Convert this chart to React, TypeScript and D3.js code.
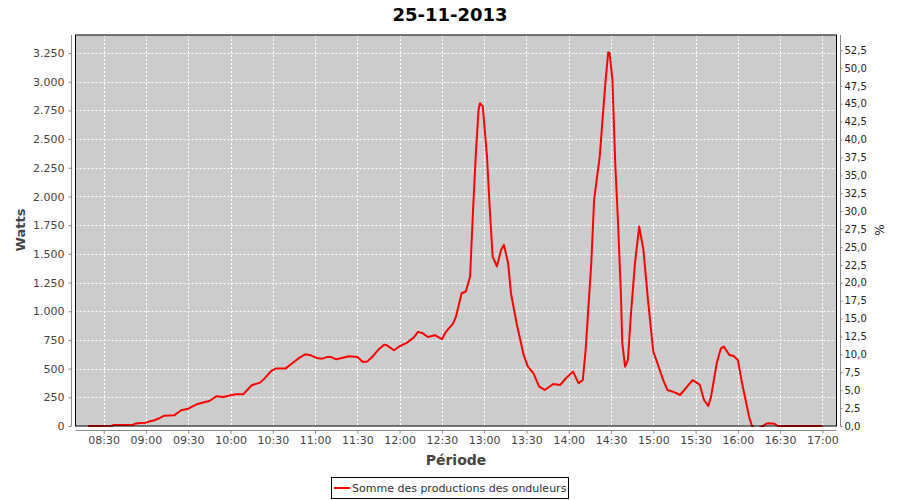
import { useEffect, useRef } from "react";
import * as d3 from "d3";

// readings taken off the curve (time of day, Watts)
const times = [
  "08:19", "08:36", "08:37", "08:51", "08:52", "08:56", "09:00", "09:03", "09:06", "09:08",
  "09:10", "09:13", "09:20", "09:25", "09:30", "09:36", "09:42", "09:45", "09:50", "09:55",
  "10:01", "10:04", "10:09", "10:15", "10:21", "10:24", "10:29", "10:32", "10:39", "10:44",
  "10:49", "10:53", "10:57", "11:01", "11:05", "11:09", "11:11", "11:15", "11:19", "11:24",
  "11:30", "11:34", "11:37", "11:41", "11:45", "11:49", "11:51", "11:56", "12:00", "12:05",
  "12:10", "12:13", "12:16", "12:20", "12:25", "12:30", "12:33", "12:38", "12:40", "12:44",
  "12:47", "12:50", "12:52", "12:54", "12:56", "12:57", "12:59", "13:02", "13:04", "13:06",
  "13:09", "13:12", "13:14", "13:17", "13:19", "13:23", "13:28", "13:31", "13:35", "13:39",
  "13:43", "13:49", "13:54", "13:58", "14:03", "14:07", "14:10", "14:12", "14:16", "14:18",
  "14:22", "14:24", "14:26", "14:28", "14:29", "14:31", "14:33", "14:35", "14:37", "14:38",
  "14:40", "14:42", "14:44", "14:47", "14:50", "14:53", "14:56", "15:00", "15:03", "15:07",
  "15:10", "15:14", "15:19", "15:24", "15:28", "15:33", "15:36", "15:39", "15:41", "15:45",
  "15:48", "15:50", "15:54", "15:57", "16:00", "16:03", "16:06", "16:08", "16:10", "16:13",
  "16:18", "16:20", "16:22", "16:26", "16:28", "16:30", "17:00",
];
const watts = [
  0, 3, 8, 10, 20, 26, 29, 41, 50, 61,
  70, 90, 93, 137, 151, 189, 209, 218, 259, 253,
  270, 276, 276, 355, 378, 413, 480, 500, 500, 549,
  596, 625, 616, 593, 587, 602, 602, 581, 593, 608,
  602, 558, 561, 608, 666, 709, 703, 660, 695, 724,
  770, 820, 811, 776, 791, 756, 823, 895, 953, 1157,
  1172, 1302, 1855, 2349, 2756, 2812, 2785, 2349, 1884, 1477,
  1390, 1535, 1578, 1419, 1157, 895, 619, 517, 459, 343,
  314, 366, 358, 416, 474, 372, 401, 663, 1419, 1971,
  2349, 2669, 2988, 3256, 3250, 3017, 2291, 1767, 1157, 721,
  517, 576, 953, 1419, 1738, 1535, 1128, 648, 546, 401,
  314, 299, 270, 343, 401, 358, 227, 174, 256, 546,
  677, 692, 619, 610, 576, 372, 198, 81, 0, -30,
  0, 20, 23, 20, 2, 0, 0,
];

const wattTicks = d3.range(0, 3251, 250);
const pctTicks = d3.range(0, 52.6, 2.5);
const timeTicks = [
  "08:30", "09:00", "09:30", "10:00", "10:30", "11:00", "11:30", "12:00", "12:30",
  "13:00", "13:30", "14:00", "14:30", "15:00", "15:30", "16:00", "16:30", "17:00",
];

const title = "25-11-2013";
const seriesName = "Somme des productions des onduleurs";

export default function App() {
  const svgRef = useRef<SVGSVGElement>(null);

  useEffect(() => {
    if (!svgRef.current) return;
    document.body.style.margin = "0";

    const width = 900;
    const height = 500;
    const svg = d3.select(svgRef.current);
    svg.selectAll("*").remove();
    svg.attr("width", width).attr("height", height);

    const font = "'DejaVu Sans', sans-serif";
    const left = 75.5, right = 836.5, top = 35, bottom = 426;

    const parse = d3.timeParse("%H:%M");
    const data = times.map((t, i) => ({ t: parse(t) as Date, v: watts[i] }));

    const x = d3.scaleTime()
      .domain([parse("08:10") as Date, parse("17:10") as Date])
      .range([left, right]);
    const y = d3.scaleLinear().domain([0, 3407]).range([bottom, top]);
    const yPct = d3.scaleLinear().domain([0, 54.6]).range([bottom, top]);
    const tickDates = timeTicks.map(t => parse(t) as Date);

    svg.append("rect").attr("width", width).attr("height", height).attr("fill", "#fff");

    // title
    svg.append("text")
      .attr("x", 450).attr("y", 21)
      .attr("text-anchor", "middle")
      .attr("font-family", font).attr("font-size", 18).attr("font-weight", "bold")
      .attr("fill", "#000")
      .text(title);

    // plot background
    svg.append("rect")
      .attr("x", left).attr("y", top)
      .attr("width", right - left).attr("height", bottom - top)
      .attr("fill", "#cccccc");

    // gridlines
    const grid = svg.append("g").attr("stroke", "#fff").attr("stroke-dasharray", "2,2");
    grid.selectAll(".vg").data(tickDates).enter().append("line")
      .attr("x1", d => Math.round(x(d)) + 0.5).attr("x2", d => Math.round(x(d)) + 0.5)
      .attr("y1", top).attr("y2", bottom);
    grid.selectAll(".hg").data(wattTicks.slice(1)).enter().append("line")
      .attr("x1", left).attr("x2", right)
      .attr("y1", d => Math.round(y(d)) + 0.5).attr("y2", d => Math.round(y(d)) + 0.5);

    // series
    svg.append("clipPath").attr("id", "plotclip")
      .append("rect").attr("x", left).attr("y", top)
      .attr("width", right - left).attr("height", bottom - top + 1);

    const line = d3.line<{ t: Date; v: number }>()
      .x(d => x(d.t))
      .y(d => y(d.v));

    svg.append("path")
      .datum(data)
      .attr("clip-path", "url(#plotclip)")
      .attr("fill", "none")
      .attr("stroke", "#ff0000")
      .attr("stroke-width", 2)
      .attr("stroke-linejoin", "round")
      .attr("d", line);

    // plot border
    svg.append("rect")
      .attr("x", left).attr("y", top)
      .attr("width", right - left).attr("height", bottom - top)
      .attr("fill", "none").attr("stroke", "#000");

    const tickColor = "#444";

    // left axis
    const yAxis = svg.append("g")
      .attr("transform", "translate(71.5,0)")
      .call(d3.axisLeft(y).tickValues(wattTicks).tickSize(3).tickPadding(4)
        .tickFormat(d => d3.format(",")(d as number).replace(/,/g, ".")));
    yAxis.select(".domain").attr("stroke", "#888").attr("d", `M0,${top}V${bottom}`);
    yAxis.selectAll(".tick line").attr("stroke", "#888");
    yAxis.selectAll("text").attr("font-family", font).attr("font-size", 11).attr("fill", tickColor);

    // right axis
    const pAxis = svg.append("g")
      .attr("transform", "translate(840.5,0)")
      .call(d3.axisRight(yPct).tickValues(pctTicks).tickSize(2).tickPadding(2)
        .tickFormat(d => (d as number).toFixed(1).replace(".", ",")));
    pAxis.select(".domain").attr("stroke", "#888").attr("d", `M0,${top}V${bottom}`);
    pAxis.selectAll(".tick line").attr("stroke", "#888");
    pAxis.selectAll("text").attr("font-family", font).attr("font-size", 10).attr("fill", "#222");

    // bottom axis
    const xAxis = svg.append("g")
      .attr("transform", "translate(0,430.5)")
      .call(d3.axisBottom(x).tickValues(tickDates).tickSize(3).tickPadding(3)
        .tickFormat(d => d3.timeFormat("%H:%M")(d as Date)));
    xAxis.select(".domain").attr("stroke", "#888").attr("d", `M${left},0H${right}`);
    xAxis.selectAll(".tick line").attr("stroke", "#888");
    xAxis.selectAll("text").attr("font-family", font).attr("font-size", 11).attr("fill", tickColor);

    // axis labels
    svg.append("text")
      .attr("transform", "translate(25,230) rotate(-90)")
      .attr("text-anchor", "middle")
      .attr("font-family", font).attr("font-size", 13).attr("font-weight", "bold")
      .attr("fill", tickColor)
      .text("Watts");
    svg.append("text")
      .attr("transform", "translate(884,230) rotate(-90)")
      .attr("text-anchor", "middle")
      .attr("font-family", font).attr("font-size", 12)
      .attr("fill", "#222")
      .text("%");
    svg.append("text")
      .attr("x", 456).attr("y", 465)
      .attr("text-anchor", "middle")
      .attr("font-family", font).attr("font-size", 14).attr("font-weight", "bold")
      .attr("fill", tickColor)
      .text("Période");

    // legend
    const lg = svg.append("g");
    lg.append("rect")
      .attr("x", 331.5).attr("y", 477.5).attr("width", 237).attr("height", 21)
      .attr("fill", "#fff").attr("stroke", "#000");
    lg.append("line")
      .attr("x1", 334).attr("x2", 350).attr("y1", 488).attr("y2", 488)
      .attr("stroke", "#ff0000").attr("stroke-width", 2);
    lg.append("text")
      .attr("x", 352).attr("y", 492)
      .attr("font-family", font).attr("font-size", 11)
      .attr("fill", "#333")
      .text(seriesName);
  }, []);

  return <svg ref={svgRef}></svg>;
}
